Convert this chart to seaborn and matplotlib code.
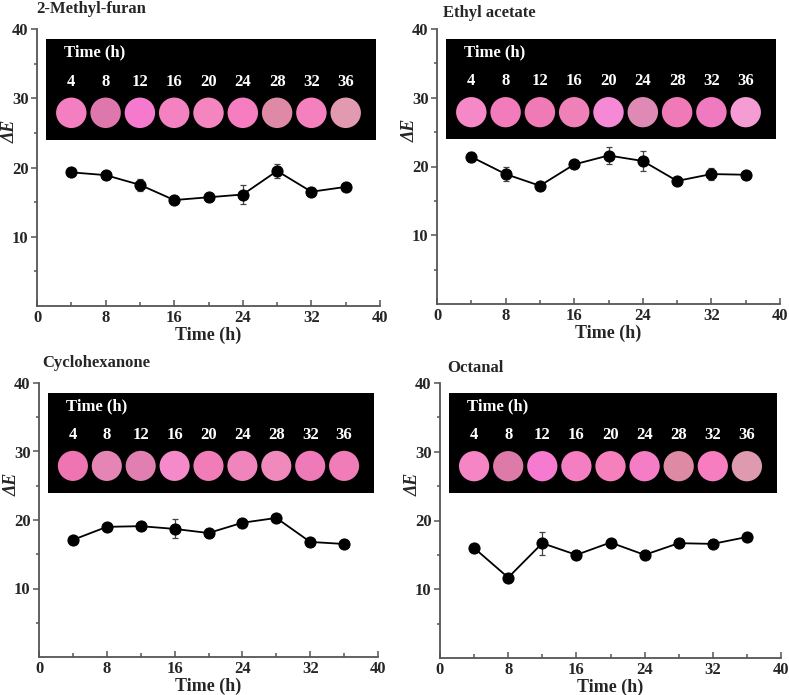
import matplotlib
matplotlib.use("Agg")
import matplotlib.pyplot as plt
import seaborn as sns
import pandas as pd
import numpy as np
from matplotlib.patches import Rectangle, Ellipse

sns.set_theme(style="white")
plt.rcParams['font.family'] = ['Liberation Serif', 'DejaVu Serif']

times = [4, 8, 12, 16, 20, 24, 28, 32, 36]
titles = ["2-Methyl-furan", "Ethyl acetate", "Cyclohexanone", "Octanal"]

de_methylfuran = [19.3, 18.9, 17.5, 15.3, 15.7, 16.1, 19.5, 16.5, 17.2]
err_methylfuran = [0.3, 0.3, 0.9, 0.3, 0.3, 1.4, 1.0, 0.3, 0.3]
de_ethylacetate = [21.4, 18.9, 17.2, 20.3, 21.6, 20.8, 17.9, 18.9, 18.8]
err_ethylacetate = [0.7, 1.0, 0.3, 0.3, 1.3, 1.4, 0.3, 0.9, 0.3]
de_cyclohexanone = [17.1, 19.0, 19.1, 18.7, 18.1, 19.6, 20.3, 16.8, 16.5]
err_cyclohexanone = [0.3, 0.3, 0.3, 1.4, 0.3, 0.3, 0.3, 0.3, 0.3]
de_octanal = [16.0, 11.7, 16.7, 15.0, 16.8, 15.0, 16.7, 16.6, 17.6]
err_octanal = [0.3, 0.3, 1.7, 0.3, 0.3, 0.6, 0.3, 0.3, 0.3]

colors_methylfuran = ["#F47FC0", "#DE78AC", "#F57ACD", "#F582C0", "#F585BE",
                      "#F57DC0", "#DE8AA6", "#F580BE", "#E29AB0"]
colors_ethylacetate = ["#F589C8", "#F27CBB", "#EF7AB5", "#F081B8", "#F589D5",
                       "#DE8AB5", "#F07AB8", "#F07ABF", "#F59CD5"]
colors_cyclohexanone = ["#EE75B2", "#E585B5", "#E07FB0", "#F58ACB", "#F07DB8",
                        "#F084BD", "#F08ABD", "#EE7ABA", "#F07CB8"]
colors_octanal = ["#F585C5", "#DE7AA8", "#F57AD0", "#F57DC2", "#F580BB",
                  "#F57DC5", "#DE8AA5", "#F57DC0", "#DE9AAE"]

values = [de_methylfuran, de_ethylacetate, de_cyclohexanone, de_octanal]
errors = [err_methylfuran, err_ethylacetate, err_cyclohexanone, err_octanal]
swatches = [colors_methylfuran, colors_ethylacetate, colors_cyclohexanone, colors_octanal]

W, H = 789, 695
fig = plt.figure(figsize=(W / 100, H / 100), dpi=100)
boxes_px = [(37, 29, 380, 306), (437, 29, 780, 304), (39, 383, 378, 657), (440, 383, 781, 658)]
title_off_px = [(-1, 20), (6, 16), (3, 20), (7, 15)]

axis_col = "#555555"
for i, (x0, y0, x1, y1) in enumerate(boxes_px):
    w_px, h_px = x1 - x0, y1 - y0
    ax = fig.add_axes([x0 / W, 1 - y1 / H, w_px / W, h_px / H])
    df = pd.DataFrame({"Time": times, "dE": values[i], "err": errors[i]})
    ax.errorbar(df["Time"], df["dE"], yerr=df["err"], fmt="none", ecolor="#444444",
                elinewidth=0.9, capsize=2.5, capthick=0.9, zorder=2)
    sns.lineplot(data=df, x="Time", y="dE", ax=ax, color="black", linewidth=1.3,
                 marker="o", markersize=8, markeredgecolor="black", zorder=3)
    ax.set_xlim(0, 40)
    ax.set_ylim(0, 40)
    ax.set_xticks([0, 8, 16, 24, 32, 40])
    ax.set_xticks([4, 12, 20, 28, 36], minor=True)
    ax.set_yticks([10, 20, 30, 40])
    ax.set_yticks([5, 15, 25, 35], minor=True)
    for s in ["top", "right"]:
        ax.spines[s].set_visible(False)
    for s in ["left", "bottom"]:
        ax.spines[s].set_color(axis_col)
        ax.spines[s].set_linewidth(1.3)
    ax.tick_params(axis="x", which="major", direction="in", length=4, width=1.1,
                   color=axis_col, pad=3, labelsize=12)
    ax.tick_params(axis="x", which="minor", direction="in", length=3, width=1.1,
                   color=axis_col)
    ax.tick_params(axis="y", which="major", direction="out", length=4, width=1.1,
                   color=axis_col, pad=2, labelsize=12)
    ax.tick_params(axis="y", which="minor", direction="out", length=2.5, width=1.1,
                   color=axis_col)
    ax.tick_params(bottom=True, left=True, which="both")
    for lab in ax.get_xticklabels() + ax.get_yticklabels():
        lab.set_fontweight("bold")
    ax.set_xlabel("Time (h)", fontsize=13, fontweight="bold")
    ax.xaxis.label.set_va("center")
    ax.xaxis.set_label_coords(0.5, -29 / h_px)
    ax.set_ylabel("ΔE", fontsize=13, fontweight="bold", fontstyle="italic")
    ax.yaxis.label.set_va("center")
    ax.yaxis.set_label_coords(-27 / w_px, 0.63)
    dx, dy = title_off_px[i]
    ax.text(dx / w_px, 1 + dy / h_px, titles[i], transform=ax.transAxes, fontsize=12,
            fontweight="bold", ha="left", va="center")

    # inset photo panel
    ax.add_patch(Rectangle((1.1, 24.0), 38.4, 14.5, facecolor="black",
                           edgecolor="none", zorder=4))
    ax.text(3.2, 36.6, "Time (h)", color="white", fontsize=12, fontweight="bold",
            ha="left", va="center", zorder=5)
    for t, c in zip(times, swatches[i]):
        ax.text(t, 32.4, str(t), color="white", fontsize=12, fontweight="bold",
                ha="center", va="center", zorder=5)
        ax.add_patch(Ellipse((t, 27.9), 3.55, 4.4, facecolor=c, edgecolor="none",
                             zorder=5))

fig.savefig("out.png", dpi=100)
